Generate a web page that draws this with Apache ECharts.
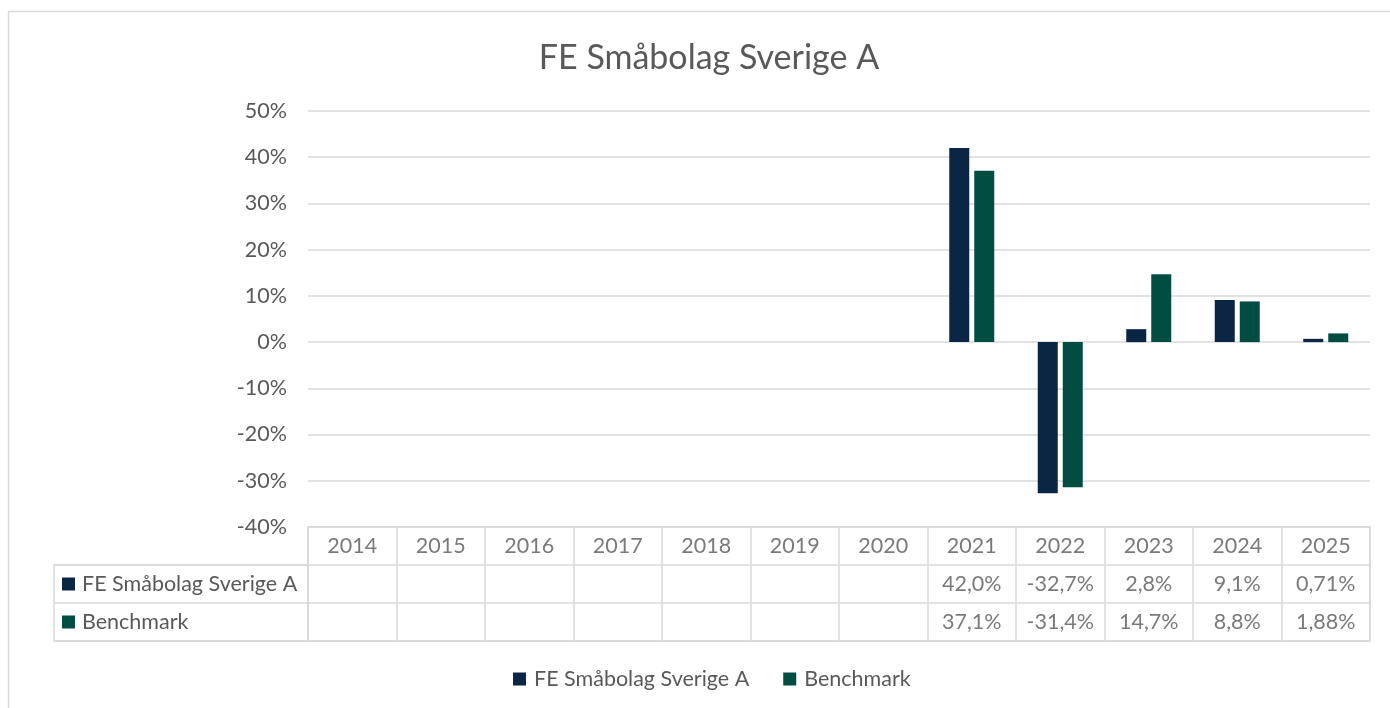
<!DOCTYPE html>
<html>
<head>
<meta charset="utf-8">
<title>FE Småbolag Sverige A</title>
<script src="https://cdn.jsdelivr.net/npm/echarts@6/dist/echarts.min.js"></script>
<style>
  html, body { margin: 0; padding: 0; background: #fff; }
  #chart { width: 1390px; height: 708px; }
</style>
</head>
<body>
<div id="chart"></div>
<script>
// data
const years = ['2014', '2015', '2016', '2017', '2018', '2019', '2020', '2021', '2022', '2023', '2024', '2025'];
const fund_name = 'FE Småbolag Sverige A';
const bench_name = 'Benchmark';
const fund_values = [null, null, null, null, null, null, null, 42.0, -32.7, 2.8, 9.1, 0.71];
const bench_values = [null, null, null, null, null, null, null, 37.1, -31.4, 14.7, 8.8, 1.88];
const fund_text = ['', '', '', '', '', '', '', '42,0%', '-32,7%', '2,8%', '9,1%', '0,71%'];
const bench_text = ['', '', '', '', '', '', '', '37,1%', '-31,4%', '14,7%', '8,8%', '1,88%'];

const fund_color = '#0b2545';
const bench_color = '#014d42';
const text_color = '#595959';
const line_color = '#d9d9d9';
const font = 'Lato';
const fs = 21.5;

let chart = echarts.init(document.getElementById('chart'));

// cells of the data table: header row + two value rows
let cell_data = [];
years.forEach((y, i) => {
    cell_data.push({ value: [i, 0], text: y });
    if (fund_text[i]) cell_data.push({ value: [i, 1], text: fund_text[i] });
    if (bench_text[i]) cell_data.push({ value: [i, 2], text: bench_text[i] });
});

let option = {
    animation: false,
    backgroundColor: '#fff',
    textStyle: { fontFamily: font },
    title: {
        text: fund_name,
        left: 704, top: 36,
        textAlign: 'center',
        textStyle: { fontFamily: font, fontSize: 34, fontWeight: 'normal', color: text_color }
    },
    legend: {
        data: [fund_name, bench_name],
        left: 508, top: 663,
        itemWidth: 13, itemHeight: 13, itemGap: 34,
        icon: 'rect',
        textStyle: { fontFamily: font, fontSize: fs, color: text_color, padding: [0, 0, 0, 3] }
    },
    graphic: [{
        type: 'rect', silent: true,
        shape: { x: 8.5, y: 11.5, width: 1420, height: 720 },
        style: { fill: 'none', stroke: line_color, lineWidth: 1.5 }
    }],
    grid: [
        { left: 308, top: 111, width: 1062, height: 416 },                     // bars
        { left: 308, top: 527, width: 1062, height: 114, show: true, borderColor: line_color, borderWidth: 1.5 }, // table
        { left: 54, top: 565, width: 254, height: 76, show: true, borderColor: line_color, borderWidth: 1.5 }    // row names
    ],
    xAxis: [
        {
            gridIndex: 0, type: 'category', data: years,
            axisLine: { show: false }, axisTick: { show: false }, axisLabel: { show: false }
        },
        {
            gridIndex: 1, type: 'category', data: years,
            axisLine: { show: false }, axisTick: { show: false }, axisLabel: { show: false },
            splitLine: { show: true, interval: 0, lineStyle: { color: line_color, width: 1.5 } }
        },
        {
            gridIndex: 2, type: 'value', show: false
        }
    ],
    yAxis: [
        {
            gridIndex: 0, type: 'value', min: -40, max: 50, interval: 10,
            axisLine: { show: false }, axisTick: { show: false },
            axisLabel: { formatter: '{value}%', margin: 21, fontFamily: font, fontSize: fs, color: text_color },
            splitLine: { lineStyle: { color: line_color, width: 1.5 } }
        },
        {
            gridIndex: 1, type: 'category', data: ['head', 'fund', 'bench'], inverse: true,
            axisLine: { show: false }, axisTick: { show: false }, axisLabel: { show: false },
            splitLine: { show: true, interval: 0, lineStyle: { color: line_color, width: 1.5 } }
        },
        {
            gridIndex: 2, type: 'category', data: [fund_name, bench_name], inverse: true,
            axisLine: { show: false }, axisTick: { show: false },
            splitLine: { show: true, interval: 0, lineStyle: { color: line_color, width: 1.5 } },
            axisLabel: {
                inside: true, margin: 8,
                formatter: v => (v == fund_name ? '{f| }' : '{b| }') + '{t|' + v + '}',
                rich: {
                    f: { width: 13, height: 13, backgroundColor: fund_color },
                    b: { width: 13, height: 13, backgroundColor: bench_color },
                    t: { fontFamily: font, fontSize: fs, color: text_color, padding: [0, 0, 0, 7] }
                }
            }
        }
    ],
    series: [
        {
            name: fund_name, type: 'bar', xAxisIndex: 0, yAxisIndex: 0,
            data: fund_values, barWidth: 20, barGap: '25%',
            itemStyle: { color: fund_color }
        },
        {
            name: bench_name, type: 'bar', xAxisIndex: 0, yAxisIndex: 0,
            data: bench_values, barWidth: 20, barGap: '25%',
            itemStyle: { color: bench_color }
        },
        {
            name: 'table', type: 'scatter', xAxisIndex: 1, yAxisIndex: 1,
            data: cell_data, symbolSize: 1, silent: true,
            itemStyle: { color: 'transparent' },
            label: {
                show: true, position: 'inside',
                formatter: p => p.data.text,
                fontFamily: font, fontSize: fs, color: text_color
            }
        },
        // keeps the row name grid alive
        { name: 'rows', type: 'scatter', xAxisIndex: 2, yAxisIndex: 2, data: [], silent: true }
    ]
};
chart.setOption(option);
</script>
</body>
</html>
